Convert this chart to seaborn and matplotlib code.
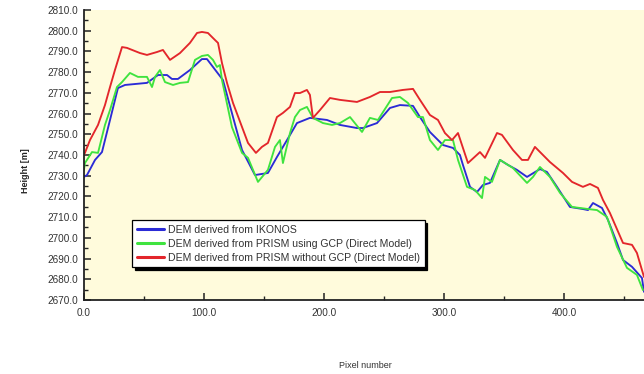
import numpy as np
import pandas as pd
import matplotlib
matplotlib.use("Agg")
import matplotlib.pyplot as plt
from matplotlib.ticker import MultipleLocator, FormatStrFormatter
import seaborn as sns

# Elevation profiles along a transect (pixel number vs. height in metres)
ikonos_px = [0, 2.5, 9.2, 15, 21.7, 28.3, 34.2, 52.5, 61.7, 69.2, 73.3, 78.3, 88.3, 98.3,
             102.5, 107.5, 115.8, 124.2, 131.7, 142.5, 153.3, 160.8, 169.2, 177.5, 188.3,
             202.5, 213.3, 227.5, 232.5, 244.2, 255, 263.3, 274.2, 280, 288.3, 299.2, 307.5,
             313.3, 315.8, 321.7, 327.5, 332.5, 338.3, 346.7, 353.3, 360.8, 369.2, 380,
             385.8, 394.2, 405, 415.8, 420, 424.2, 431.7, 436.7, 444.2, 449.2, 456.7, 465, 466.7]
ikonos_h = [2729.4, 2730.3, 2737.6, 2741.4, 2756.9, 2772.3, 2773.8, 2774.8, 2778.6, 2778.6,
            2776.7, 2776.7, 2781.0, 2786.3, 2786.3, 2782.5, 2776.2, 2758.3, 2742.4, 2730.3,
            2731.3, 2739.0, 2747.2, 2755.4, 2757.9, 2756.9, 2754.5, 2753.0, 2753.0, 2755.4,
            2762.7, 2764.1, 2763.7, 2758.3, 2751.1, 2744.8, 2743.4, 2740.0, 2735.2, 2724.6,
            2722.1, 2725.5, 2726.5, 2737.6, 2735.2, 2732.8, 2729.4, 2733.2, 2731.8, 2724.6,
            2714.9, 2713.9, 2713.4, 2716.8, 2714.4, 2708.6, 2697.5, 2689.3, 2686.0, 2680.6, 2673.9]

prism_gcp_px = [0, 0.8, 6.7, 11.7, 17.5, 21.7, 27.5, 31.7, 38.3, 45, 52.5, 56.7, 59.2, 63.3,
                67.5, 74.2, 80, 86.7, 92.5, 98.3, 103.3, 107.5, 110.8, 113.3, 115, 123.3,
                131.7, 136.7, 145, 153.3, 159.2, 163.3, 165.8, 171.7, 175.8, 180, 185.8,
                190.8, 199.2, 206.7, 213.3, 221.7, 231.7, 238.3, 245, 256.7, 263.3, 270,
                278.3, 282.5, 288.3, 295, 300.8, 307.5, 311.7, 319.2, 325.8, 331.7, 334.2,
                340, 346.7, 357.5, 369.2, 374.2, 380, 388.3, 396.7, 406.7, 420, 427.5, 435.8,
                444.2, 452.5, 460.8, 465.8]
prism_gcp_h = [2732.8, 2736.1, 2741.4, 2741.0, 2754.5, 2761.7, 2772.8, 2775.2, 2779.6, 2777.7,
               2777.7, 2772.8, 2777.7, 2781.0, 2775.2, 2773.8, 2774.8, 2775.2, 2785.9, 2787.8,
               2788.3, 2785.9, 2782.5, 2783.4, 2776.2, 2753.5, 2741.0, 2738.6, 2727.0, 2732.8,
               2743.9, 2747.2, 2736.1, 2750.6, 2758.3, 2761.7, 2763.2, 2757.9, 2755.4, 2754.5,
               2755.4, 2758.3, 2751.1, 2757.9, 2756.9, 2767.5, 2768.0, 2765.1, 2758.3, 2758.3,
               2747.2, 2742.4, 2747.2, 2747.2, 2737.6, 2724.6, 2723.1, 2719.2, 2729.4, 2727.0,
               2737.6, 2733.7, 2726.5, 2729.4, 2734.2, 2729.4, 2721.7, 2714.9, 2713.9, 2713.4,
               2710.1, 2695.6, 2685.5, 2682.1, 2674.8]

prism_nogcp_px = [0, 0.8, 5, 11.7, 17.5, 21.7, 25.8, 31.7, 35.8, 46.7, 52.5, 60.8, 65.8, 71.7,
                  80, 88.3, 94.2, 98.3, 103.3, 109.2, 111.7, 115, 119.2, 124.2, 131.7, 136.7,
                  143.3, 148.3, 153.3, 160.8, 165.8, 171.7, 175.8, 180, 185.8, 188.3, 190.8,
                  196.7, 205, 213.3, 227.5, 238.3, 246.7, 255, 265.8, 274.2, 280, 288.3, 295,
                  300.8, 306.7, 311.7, 320, 330, 334.2, 344.2, 348.3, 357.5, 365, 370, 375.8,
                  388.3, 399.2, 406.7, 415.8, 421.7, 428.3, 432.5, 438.3, 449.2, 456.7, 460.8, 466.7]
prism_nogcp_h = [2740.0, 2741.0, 2747.2, 2754.5, 2764.1, 2772.8, 2781.0, 2792.1, 2791.7, 2789.2,
                 2788.3, 2789.7, 2790.7, 2785.9, 2789.2, 2794.1, 2798.9, 2799.4, 2798.9, 2795.5,
                 2794.1, 2784.4, 2774.8, 2765.1, 2753.5, 2745.8, 2741.0, 2743.9, 2745.8, 2758.3,
                 2760.3, 2763.2, 2769.9, 2769.9, 2771.4, 2769.0, 2757.9, 2761.7, 2767.5, 2766.6,
                 2765.6, 2768.0, 2770.4, 2770.4, 2771.4, 2771.9, 2766.6, 2759.3, 2756.9, 2750.6,
                 2747.2, 2750.6, 2736.1, 2741.4, 2738.6, 2750.6, 2749.7, 2742.4, 2737.6, 2737.6,
                 2743.9, 2736.6, 2731.3, 2727.0, 2724.6, 2726.0, 2724.1, 2718.3, 2712.0, 2697.5,
                 2696.6, 2692.7, 2681.1]

series_names = [
    "DEM derived from IKONOS",
    "DEM derived from PRISM using GCP (Direct Model)",
    "DEM derived from PRISM without GCP (Direct Model)",
]
series_colors = ["#2b2bd6", "#3fe33f", "#e3262b"]

frames = []
for name, xs, hs in zip(series_names,
                        [ikonos_px, prism_gcp_px, prism_nogcp_px],
                        [ikonos_h, prism_gcp_h, prism_nogcp_h]):
    frames.append(pd.DataFrame({"Pixel number": xs, "Height [m]": hs, "Profile": name}))
df = pd.concat(frames, ignore_index=True)

sns.set_style("white")
plt.rcParams["font.family"] = ["Liberation Sans", "DejaVu Sans"]

fig = plt.figure(figsize=(6.44, 3.74), dpi=100)
ax = fig.add_axes([0.1304, 0.198, 0.8696, 0.7753])
ax.set_facecolor("#fffbdc")

sns.lineplot(data=df, x="Pixel number", y="Height [m]", hue="Profile",
             hue_order=series_names, palette=series_colors, sort=False,
             estimator=None, linewidth=1.35, ax=ax, legend=True)

ax.set_xlim(0, 466.7)
ax.set_ylim(2670, 2810)
ax.xaxis.set_major_locator(MultipleLocator(100))
ax.xaxis.set_minor_locator(MultipleLocator(50))
ax.yaxis.set_major_locator(MultipleLocator(10))
ax.yaxis.set_minor_locator(MultipleLocator(5))
ax.xaxis.set_major_formatter(FormatStrFormatter("%.1f"))
ax.yaxis.set_major_formatter(FormatStrFormatter("%.1f"))

for s in ["top", "right"]:
    ax.spines[s].set_visible(False)
for s in ["left", "bottom"]:
    ax.spines[s].set_color("#222222")
    ax.spines[s].set_linewidth(1.3)

ax.tick_params(which="both", direction="in", colors="#222222", labelcolor="#333333",
               labelsize=7.2, left=True, bottom=True)
ax.tick_params(which="major", length=5, width=1.1)
ax.tick_params(which="minor", length=3, width=1.0)
ax.tick_params(axis="x", pad=6)
ax.tick_params(axis="y", pad=4)

ax.set_xlabel("")
ax.set_ylabel("")
fig.text(0.567, 0.024, "Pixel number", ha="center", va="center", fontsize=6.5, color="#333333")
fig.text(0.039, 0.545, "Height [m]", ha="center", va="center", rotation=90,
         fontsize=6.5, color="#222222", fontweight="bold")

leg = ax.legend(loc="upper left", bbox_to_anchor=(0.0857, 0.276), fontsize=7.6,
                frameon=True, fancybox=False, handlelength=2.6, handletextpad=0.35,
                labelspacing=0.38, borderpad=0.45, borderaxespad=0.0,
                shadow={"color": "black", "alpha": 1.0, "ox": 2, "oy": -2})
leg.get_frame().set_edgecolor("black")
leg.get_frame().set_linewidth(0.9)
leg.get_frame().set_facecolor("white")
leg.get_frame().set_alpha(1.0)
for line in leg.get_lines():
    line.set_linewidth(2.2)
for t in leg.get_texts():
    t.set_color("#333333")

fig.savefig("out.png", dpi=100, facecolor="white")
